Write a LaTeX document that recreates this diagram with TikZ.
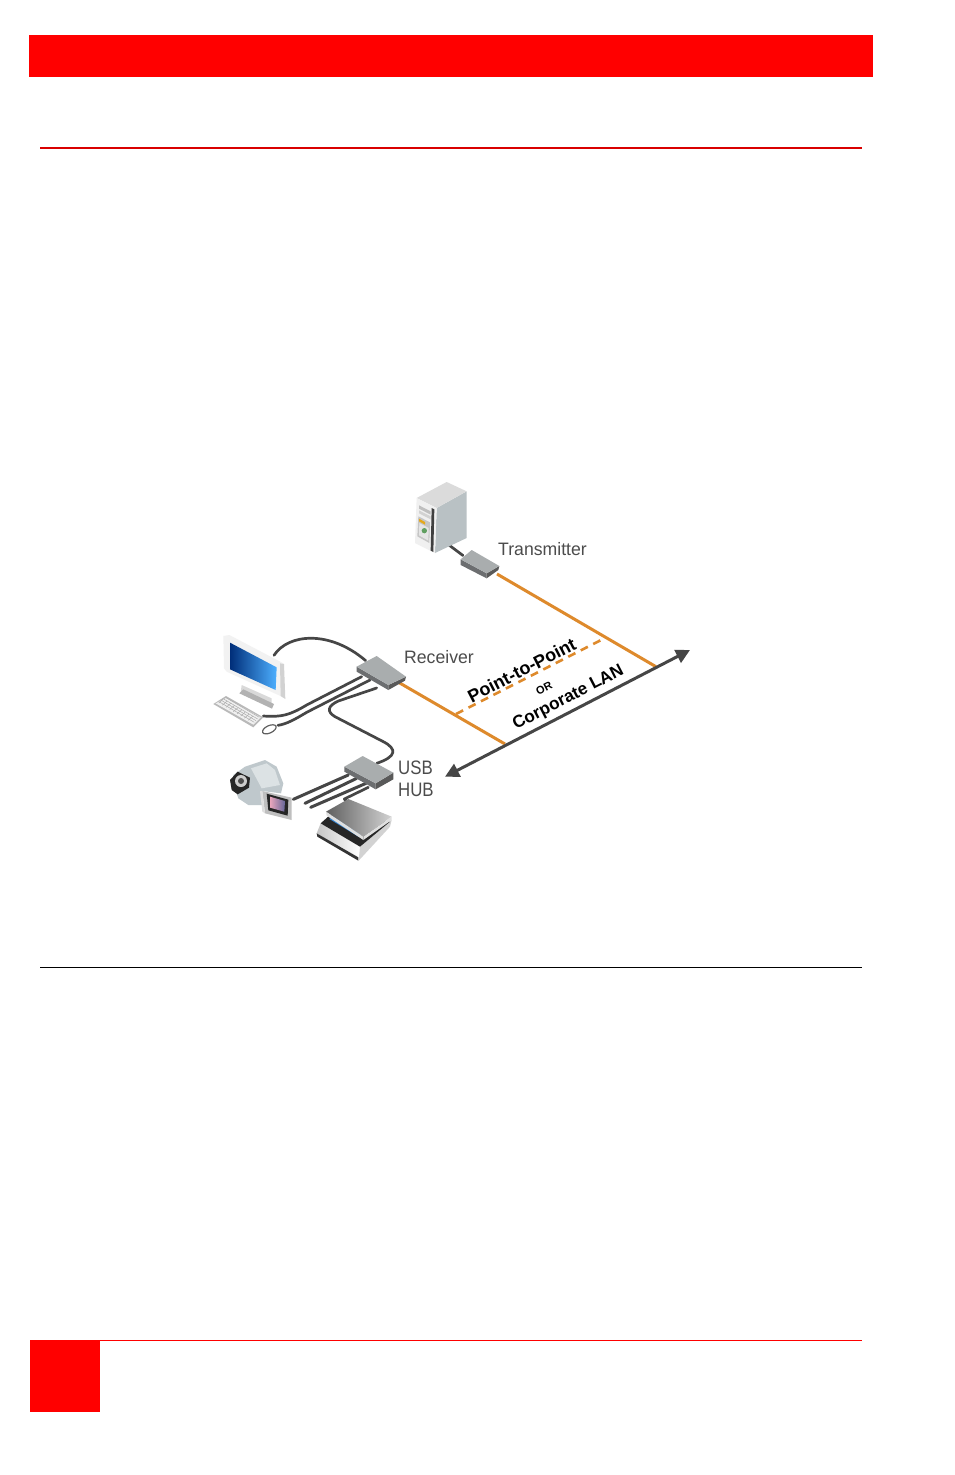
\documentclass[tikz,border=0pt]{standalone}
\usepackage{fontspec}
\setmainfont{Liberation Sans}
\usetikzlibrary{arrows.meta}
\definecolor{orangeline}{HTML}{DE8A2C}
\definecolor{cablegray}{HTML}{464646}
\definecolor{labelgray}{HTML}{4C4C4C}
\definecolor{boxtop}{HTML}{A9ADAE}
\definecolor{boxfront}{HTML}{6C6E70}
\definecolor{silver}{HTML}{BFC8CC}
\definecolor{silverlight}{HTML}{DCE2E4}
\tikzset{
  lbl/.style={text=labelgray,inner sep=0pt,font=\fontsize{18}{21}\selectfont,xscale=.98,transform shape},
  rotlbl/.style={text=black,rotate=27.3,inner sep=0pt},
  cable/.style={draw=cablegray,line width=2.7pt,line cap=round,line join=round},
  fibre/.style={draw=orangeline,line width=3pt},
  fibredash/.style={draw=orangeline,line width=2.6pt,dash pattern=on 8pt off 6pt},
  bus/.style={draw=cablegray,line width=3pt,{Triangle[length=14pt,width=14pt]}-{Triangle[length=14pt,width=14pt]}},
  top/.style={fill=boxtop,draw=none},
  side/.style={fill=boxfront,draw=none},
}
\begin{document}
\begin{tikzpicture}[x=1pt,y=-1pt]
\useasboundingbox (0,0) rectangle (954,1475);
\fill[white] (0,0) rectangle (954,1475);
% page furniture
\fill[red] (29,35) rectangle (873,77);
\draw[red!85!black,line width=1.2pt] (40,148) -- (862,148);
\draw[black,line width=.9pt] (40,967) -- (862,967);
\draw[red,line width=.8pt] (100,1340) -- (862,1340);
\fill[red] (30,1340) rectangle (100,1412);

% connector end points
\coordinate (txout) at (497,574);
\coordinate (fibreend) at (656,666.7);
\coordinate (txbranch) at (605,638);
\coordinate (rxout) at (398,682);
\coordinate (rxbranch) at (456,714);
\coordinate (lanjoin) at (505,744);
\coordinate (busa) at (445,776.7);
\coordinate (busb) at (690,650);
\coordinate (srvout) at (449,545);
\coordinate (txin) at (463,555.5);

% network lines
\draw[fibredash] (rxbranch) -- (txbranch);
\draw[fibre] (txout) -- (fibreend);
\draw[fibre] (rxout) -- (lanjoin);
\draw[bus] (busa) -- (busb);
\draw[cable] (srvout) -- (txin);

% server tower
\begin{scope}[shift={(410,478)},scale=1/3]
  \fill[silver!90!gray] (80,90) -- (170,40) -- (170,180) -- (75,225) -- cycle;
  \fill[gray!28] (20,60) -- (110,12) -- (170,40) -- (80,90) -- cycle;
  \fill[gray!12] (20,60) -- (80,90) -- (75,225) -- (15,195) -- cycle;
  \fill[black!75] (65,90) -- (73,94) -- (70,222) -- (62,218) -- cycle;
  \fill[gray!50] (27,82) -- (62,100) -- (62,110) -- (27,92) -- cycle;
  \fill[gray!35] (27,97) -- (62,115) -- (62,124) -- (27,106) -- cycle;
  \fill[gray!45] (25,115) -- (60,133) -- (58,195) -- (22,175) -- cycle;
  \fill[orange!60!yellow!80!gray] (27,122) -- (45,132) -- (45,140) -- (27,130) -- cycle;
  \fill[gray!20] (28,135) -- (56,150) -- (55,188) -- (27,172) -- cycle;
  \fill[green!25!gray] (43,158) circle (8);
\end{scope}

% transmitter and receiver cables; monitor group
\begin{scope}[shift={(200,470)},scale=1/3]
  \fill[side] (782,268) -- (860,310) -- (860,325) -- (782,285) -- cycle;
  \fill[black!65] (860,310) -- (898,288) -- (895,300) -- (860,325) -- cycle;
  \fill[top] (782,268) -- (815,240) -- (898,288) -- (860,310) -- cycle;
  \coordinate (moncab) at (222,556);
  \coordinate (rxa) at (497,572);
  \coordinate (rxb) at (485,620);
  \coordinate (rxc) at (510,630);
  \coordinate (kbd) at (190,738);
  \coordinate (mouse) at (234,766);
  \draw[cable] (moncab) .. controls (265,490) and (390,480) .. (rxa);
  \draw[cable] (rxb) -- (320,705) .. controls (270,735) and (245,742) .. (kbd);
  \draw[cable] (rxc) -- (320,727) .. controls (285,748) and (260,762) .. (mouse);
  \fill[side] (470,590) -- (565,645) -- (565,660) -- (470,605) -- cycle;
  \fill[black!65] (565,645) -- (618,620) -- (615,632) -- (565,660) -- cycle;
  \fill[top] (470,590) -- (530,558) -- (618,620) -- (565,645) -- cycle;
  \draw[gray!75!black,line width=1.2pt,fill=white,rotate around={25:(208,778)}] (208,778) ellipse (22 and 11);
\end{scope}

% monitor and keyboard
\begin{scope}[shift={(210,630)},scale=1/3]
  \fill[gray!30] (95,165) -- (185,205) -- (185,225) -- (92,188) -- cycle;
  \fill[gray!60] (88,190) -- (100,178) -- (192,222) -- (186,236) -- cycle;
  \fill[gray!10] (40,18) -- (58,15) -- (220,100) -- (225,205) -- (205,195) -- (50,125) -- (42,115) -- cycle;
  \fill[gray!35] (210,100) -- (222,102) -- (226,207) -- (212,198) -- cycle;
  \shade[left color=black!30!blue!70!cyan!60!black,right color=blue!45!cyan!70!white] (60,38) -- (200,112) -- (197,180) -- (60,118) -- cycle;
  \fill[gray!55] (10,222) -- (48,198) -- (160,262) -- (130,292) -- cycle;
  \fill[gray!12] (17,220) -- (48,204) -- (152,262) -- (130,284) -- cycle;
  \foreach \k in {0,1,2,3}{
    \draw[gray!65,line width=.5pt] ({27+\k*7},{215-\k*4}) -- ({133+\k*5},{277-\k*5});
  }
  \foreach \k in {0,...,8}{
    \draw[gray!65,line width=.5pt] ({40+\k*11},{207+\k*6.5}) -- ({26+\k*11},{219+\k*6.5});
  }
\end{scope}

% usb hub
\begin{scope}[shift={(210,700)},scale=1/3]
  \coordinate (rxusb) at (500,-36);
  \coordinate (hubin) at (500,190);
  \draw[cable] (rxusb) -- (385,3) .. controls (352,18) and (350,35) .. (375,50) -- (520,125) .. controls (562,147) and (560,170) .. (hubin);
  \coordinate (hubA) at (415,225);
  \coordinate (hubB) at (440,235);
  \coordinate (hubC) at (468,250);
  \coordinate (hubD) at (475,262);
  \coordinate (camA) at (250,298);
  \coordinate (camB) at (285,310);
  \coordinate (camC) at (302,322);
  \coordinate (scanin) at (420,315);
  \draw[cable,line width=3pt] (hubA) -- (camA);
  \draw[cable,line width=3pt] (hubB) -- (camB);
  \draw[cable,line width=3pt] (hubC) -- (camC);
  \draw[cable] (hubD) -- (403,297) -- (scanin);
  \fill[side] (403,200) -- (497,250) -- (497,268) -- (403,215) -- cycle;
  \fill[black!65] (497,250) -- (550,218) -- (550,238) -- (497,268) -- cycle;
  \fill[top] (403,200) -- (458,168) -- (550,218) -- (497,250) -- cycle;
\end{scope}

% camera
\begin{scope}[shift={(225,755)},scale=1/3]
  \fill[silver] (25,60) -- (60,35) -- (120,15) -- (155,35) -- (175,85) -- (168,115) -- (112,108) -- (112,150) -- (70,150) -- (40,130) -- (30,100) -- cycle;
  \fill[silverlight] (78,40) -- (125,25) -- (150,45) -- (165,90) -- (110,100) -- cycle;
  \fill[black!85] (15,75) -- (38,50) -- (75,68) -- (72,98) -- (38,118) -- (20,105) -- cycle;
  \fill[gray!40] (48,78) circle (18);
  \fill[black!70] (48,78) circle (9);
  \fill[gray!50] (112,108) -- (200,128) -- (200,195) -- (120,175) -- cycle;
  \fill[gray!25] (105,108) -- (112,108) -- (120,175) -- (112,170) -- cycle;
  \fill[black!85] (125,116) -- (190,134) -- (188,182) -- (130,166) -- cycle;
  \shade[left color=purple!35!white,right color=blue!20!gray] (135,125) -- (180,138) -- (178,170) -- (135,158) -- cycle;
\end{scope}

% scanner
\begin{scope}[shift={(310,795)},scale=1/3]
  \shade[left color=gray!45,right color=white] (20,115) -- (32,85) -- (150,155) -- (145,195) -- cycle;
  \fill[black!80] (20,115) -- (145,187) -- (145,197) -- (22,125) -- cycle;
  \fill[gray!35] (150,155) -- (245,75) -- (240,95) -- (146,197) -- cycle;
  \fill[black!85] (32,85) -- (60,60) -- (240,80) -- (150,155) -- cycle;
  \fill[cyan!55!blue!85] (58,72) -- (145,125) -- (158,115) -- (70,65) -- cycle;
  \shade[left color=gray!75!black,right color=gray!35] (48,50) -- (115,12) -- (245,65) -- (160,125) -- cycle;
  \fill[gray!25] (48,50) -- (160,125) -- (160,135) -- (50,62) -- cycle;
  \fill[gray!25] (160,125) -- (245,65) -- (245,75) -- (160,135) -- cycle;
\end{scope}

% labels
\node[lbl,anchor=center] (transmitterlabel) at (542.5,549) {Transmitter};
\node[lbl,anchor=center] (receiverlabel) at (439,657) {Receiver};
\node[lbl,anchor=west,align=left,font=\fontsize{19.5}{21.5}\selectfont,xscale=.88] (usblabel) at (398,779) {USB\\HUB};
\node[rotlbl,font=\bfseries\fontsize{18}{20}\selectfont] (p2plabel) at (521.7,670) {Point-to-Point};
\node[rotlbl,font=\bfseries\fontsize{11}{13}\selectfont] (orlabel) at (544,688.5) {OR};
\node[rotlbl,font=\bfseries\fontsize{17.2}{20}\selectfont] (lanlabel) at (568.5,698) {Corporate LAN};
\end{tikzpicture}
\end{document}
